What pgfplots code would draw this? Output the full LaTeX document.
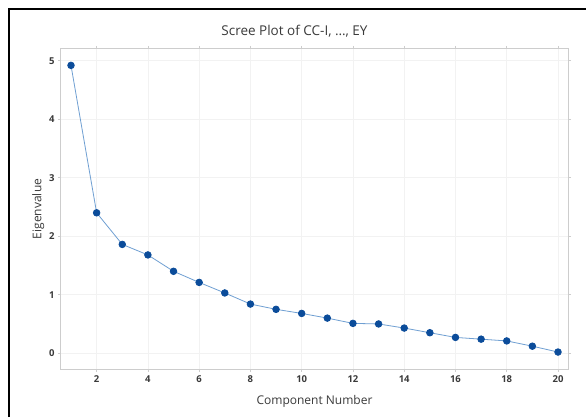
\documentclass[border=0pt]{standalone}
\usepackage{pgfplots}
\pgfplotsset{compat=1.18}
\usepackage{fontspec}
\setmainfont{Open Sans}
\definecolor{txt}{HTML}{3A3A3A}
\definecolor{axgray}{HTML}{CDCDCD}
\definecolor{gridc}{HTML}{F2F2F2}
\definecolor{lineblue}{HTML}{6F9FD2}
\definecolor{markblue}{HTML}{0B4C9A}
\begin{document}
\begin{tikzpicture}[x=1pt,y=1pt]
\useasboundingbox (0,0) rectangle (586,418);
\fill[white] (0,0) rectangle (586,418);
\draw[black, line width=2pt] (9,1) -- (9,409) -- (586,409);
\begin{axis}[
  at={(61pt,49pt)}, anchor=south west,
  scale only axis, width=507pt, height=320pt,
  xmin=0.61, xmax=20.39, ymin=-0.27, ymax=5.2,
  xtick={2,4,...,20}, ytick={0,1,2,3,4,5},
  tick align=outside, major tick length=3pt,
  tick style={axgray, line width=0.6pt},
  axis line style={axgray, line width=1pt},
  grid=major, major grid style={gridc, line width=0.6pt},
  ticklabel style={font=\fontsize{9.5}{10}\selectfont\bfseries, text=txt},
  /pgf/number format/assume math mode=true,
  xlabel={Component Number}, ylabel={Eigenvalue},
  xlabel style={font=\fontsize{12}{13}\selectfont, text=txt, yshift=-6pt},
  ylabel style={font=\fontsize{12}{13}\selectfont, text=txt, yshift=-2pt},
  title={Scree Plot of CC-I, \dots, EY},
  title style={font=\fontsize{13.5}{15}\selectfont, text=txt, yshift=2pt, xshift=-20pt},
]
\addplot[lineblue, line width=0.8pt, mark=*, mark size=3.3pt,
  mark options={fill=markblue, draw=markblue}] coordinates {
(1,4.92) (2,2.40) (3,1.86) (4,1.68) (5,1.40) (6,1.21) (7,1.03) (8,0.84)
(9,0.75) (10,0.68) (11,0.60) (12,0.51) (13,0.50) (14,0.43) (15,0.35)
(16,0.27) (17,0.24) (18,0.21) (19,0.12) (20,0.02)
};
\end{axis}
\end{tikzpicture}
\end{document}
